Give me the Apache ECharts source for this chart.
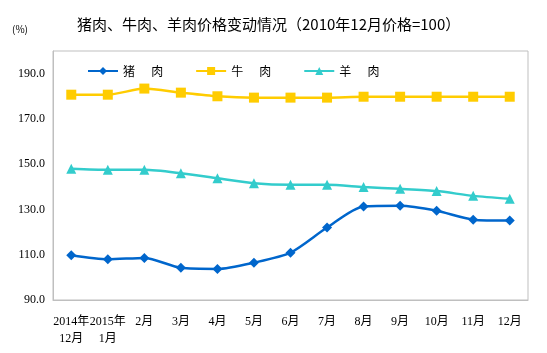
<!DOCTYPE html>
<html>
<head>
<meta charset="utf-8">
<script src="https://cdn.jsdelivr.net/npm/echarts@6/dist/echarts.min.js"></script>
<style>
  html, body { margin: 0; padding: 0; background: #fff; }
  #chart { width: 547px; height: 353px; }
</style>
</head>
<body>
<div id="chart"></div>
<script>
// 数据
const months = ['2014年\n12月', '2015年\n1月', '2月', '3月', '4月', '5月', '6月', '7月', '8月', '9月', '10月', '11月', '12月']
const pork = [109.8, 108.0, 108.6, 104.2, 103.7, 106.5, 110.9, 122.0, 131.3, 131.6, 129.4, 125.5, 125.1]
const beef = [180.7, 180.7, 183.4, 181.6, 180.0, 179.4, 179.4, 179.4, 179.8, 179.8, 179.8, 179.8, 179.8]
const mutton = [148.0, 147.5, 147.5, 146.0, 143.8, 141.6, 140.9, 140.9, 139.9, 139.1, 138.1, 136.0, 134.7]

const serif = '"Liberation Serif", "Noto Sans CJK SC", serif'
const cjk = '"Noto Sans CJK SC", sans-serif'

const chart = echarts.init(document.getElementById('chart'))
chart.setOption({
  animation: false,
  title: {
    text: '猪肉、牛肉、羊肉价格变动情况（2010年12月价格=100）',
    left: 72,
    top: 12,
    textStyle: { fontFamily: cjk, fontSize: 15, fontWeight: 'normal', color: '#000' }
  },
  graphic: [{
    type: 'text',
    left: 12,
    top: 24,
    style: { text: '(%)', fontFamily: cjk, fontSize: 10, fill: '#000' }
  }],
  grid: {
    left: 53,
    right: 19,
    top: 51,
    bottom: 53,
    show: true,
    borderColor: '#bfbfbf',
    borderWidth: 1
  },
  legend: {
    top: 60,
    left: 82,
    itemGap: 32,
    itemWidth: 30,
    itemHeight: 10,
    textStyle: { fontFamily: cjk, fontSize: 12, color: '#000' },
    data: ['猪      肉', '牛      肉', '羊      肉']
  },
  xAxis: {
    type: 'category',
    data: months,
    boundaryGap: true,
    axisTick: { show: false },
    axisLine: { lineStyle: { color: '#bfbfbf' } },
    axisLabel: {
      interval: 0,
      margin: 13,
      lineHeight: 17,
      fontFamily: serif,
      fontSize: 12,
      color: '#000'
    }
  },
  yAxis: {
    type: 'value',
    min: 90,
    max: 200,
    interval: 20,
    splitLine: { show: false },
    axisTick: { show: false },
    axisLine: { show: true, lineStyle: { color: '#bfbfbf' } },
    axisLabel: {
      showMaxLabel: false,
      fontFamily: serif,
      fontSize: 12,
      color: '#000',
      formatter: v => v.toFixed(1)
    }
  },
  series: [
    {
      name: '猪      肉',
      type: 'line',
      data: pork,
      smooth: 0.25,
      symbol: 'diamond',
      symbolSize: 10,
      lineStyle: { width: 2.5, color: '#0066cc' },
      itemStyle: { color: '#0066cc' }
    },
    {
      name: '牛      肉',
      type: 'line',
      data: beef,
      smooth: 0.25,
      symbol: 'rect',
      symbolSize: 10,
      lineStyle: { width: 2.5, color: '#ffcc00' },
      itemStyle: { color: '#ffcc00' }
    },
    {
      name: '羊      肉',
      type: 'line',
      data: mutton,
      smooth: 0.25,
      symbol: 'triangle',
      symbolSize: 10,
      lineStyle: { width: 2.5, color: '#33cccc' },
      itemStyle: { color: '#33cccc' }
    }
  ]
})
</script>
</body>
</html>
